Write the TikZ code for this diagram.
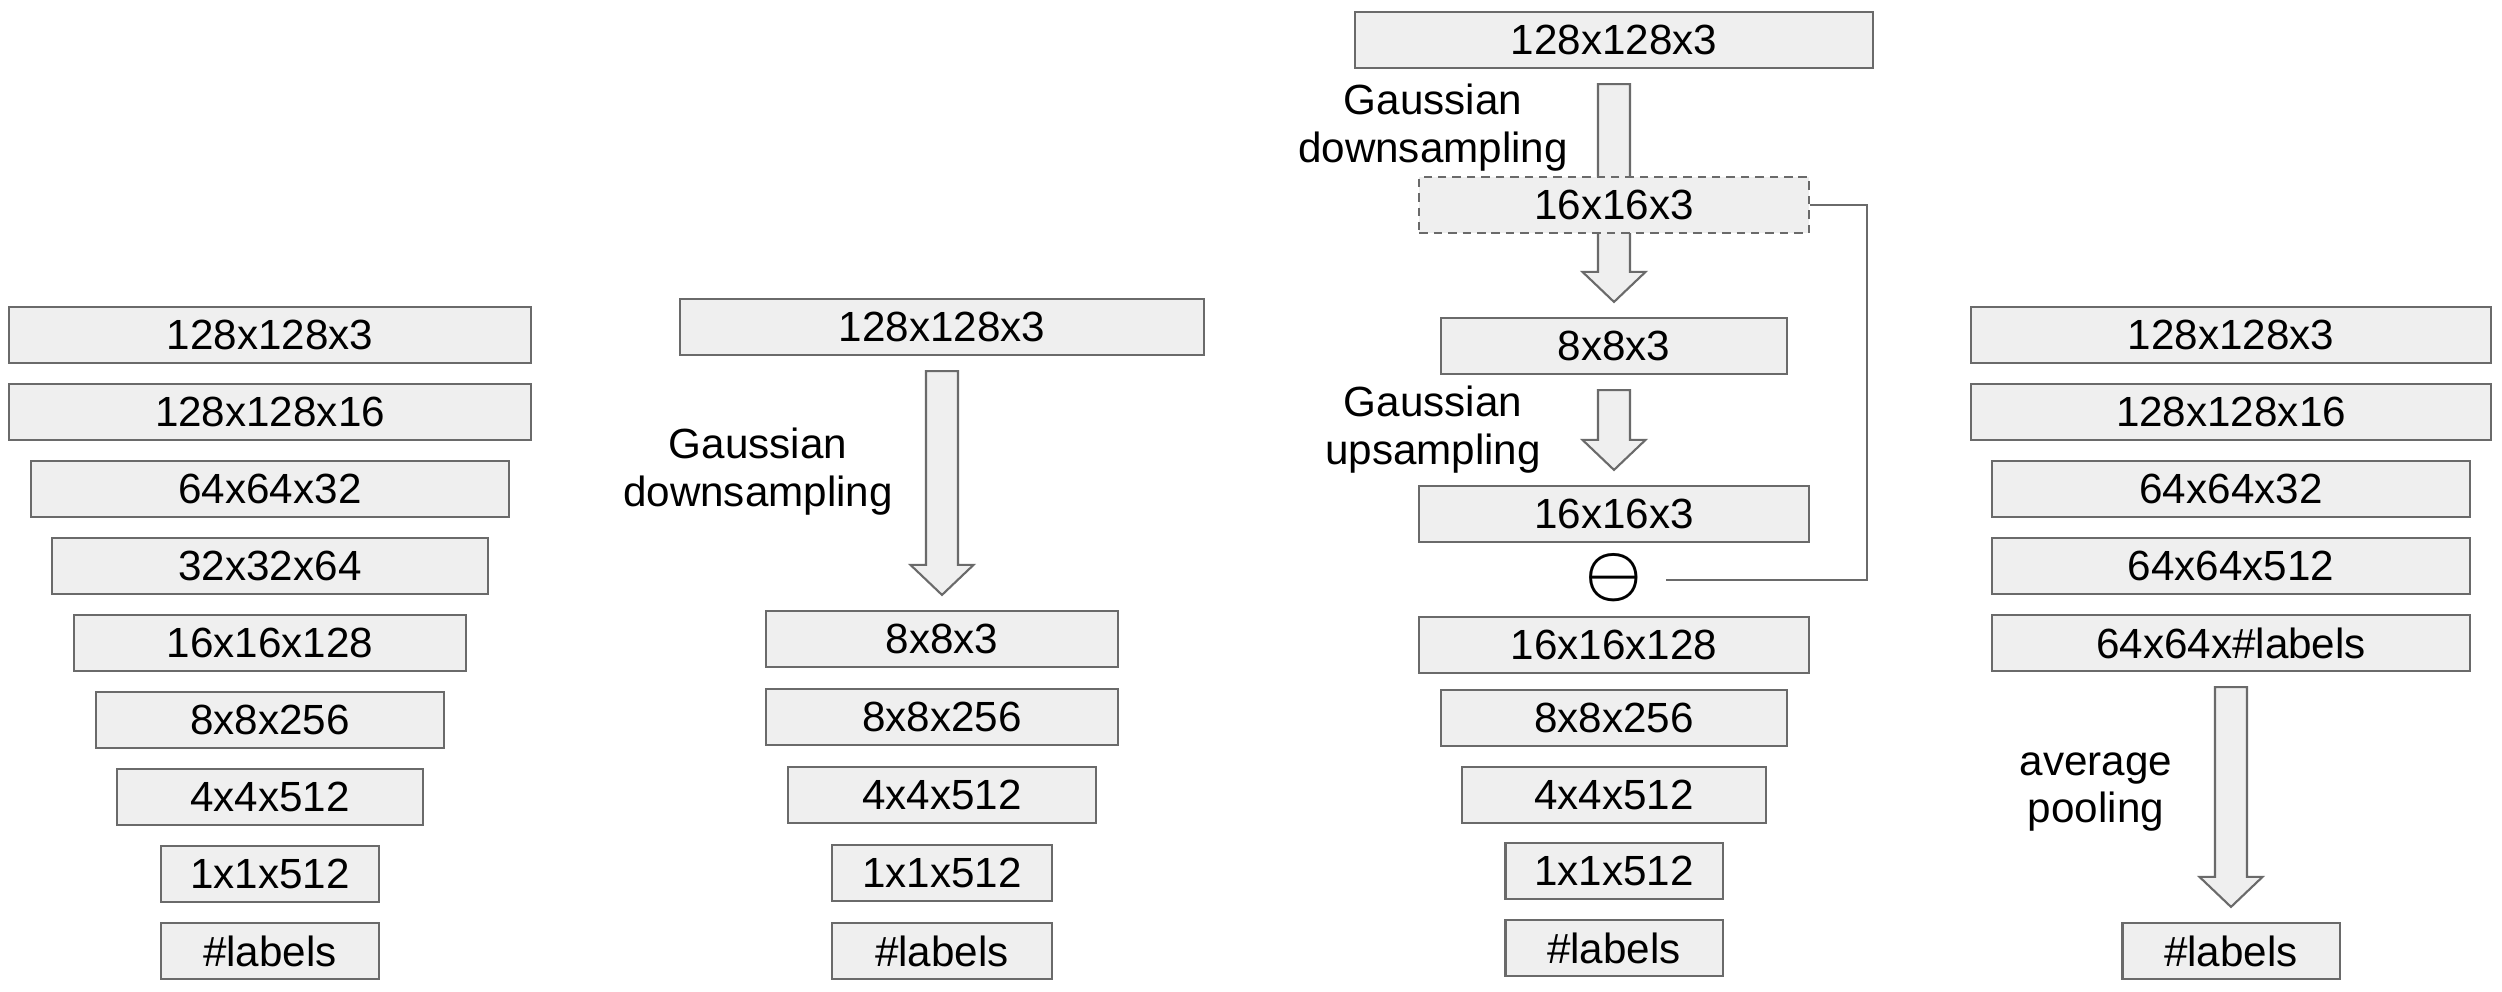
\documentclass[tikz,border=0pt]{standalone}
\usepackage{fontspec}
\setmainfont{Liberation Sans}
\usepackage{graphicx}
\usetikzlibrary{calc}
\definecolor{boxfill}{HTML}{EFEFEF}
\definecolor{boxline}{HTML}{6A6A6A}
\tikzstyle{layer}=[rectangle,draw=boxline,fill=boxfill,line width=0.6pt,minimum height=0.56cm,inner sep=0pt]
\tikzstyle{guess}=[layer,dash pattern=on 2.4pt off 1.7pt]
\tikzstyle{note}=[align=center]
\tikzstyle{feed}=[draw=boxline,line width=0.6pt]
% big hollow arrow from the box #1 down to the box #2
\newcommand{\blockarrow}[2]{%
\path let \p1=($(#1.south)+(0,15)$), \p2=($(#2.north)+(0,-15)$) in
  [draw=boxline,fill=boxfill,line width=0.6pt]
  (\x1-0.16cm,\y1) -- (\x1+0.16cm,\y1) -- (\x1+0.16cm,\y2+0.3cm) -- (\x1+0.315cm,\y2+0.3cm)
  -- (\x1,\y2) -- (\x1-0.315cm,\y2+0.3cm) -- (\x1-0.16cm,\y2+0.3cm) -- cycle;}

\begin{document}
\begin{tikzpicture}[x=0.01cm,y=-0.01cm,font=\fontsize{12}{13.6}\selectfont]
\useasboundingbox (0,0) rectangle (2502,992);
% plain network
\node (a1) at (270,335)[layer,minimum width=5.22cm] {128x128x3};
\node (a2) at (270,412)[layer,minimum width=5.22cm] {128x128x16};
\node (a3) at (270,489)[layer,minimum width=4.78cm] {64x64x32};
\node (a4) at (270,566)[layer,minimum width=4.35cm] {32x32x64};
\node (a5) at (270,643)[layer,minimum width=3.92cm] {16x16x128};
\node (a6) at (270,720)[layer,minimum width=3.48cm] {8x8x256};
\node (a7) at (270,797)[layer,minimum width=3.05cm] {4x4x512};
\node (a8) at (270,874)[layer,minimum width=2.18cm] {1x1x512};
\node (a9) at (270,951)[layer,minimum width=2.18cm] {\#labels};
% downsampled input
\node (b1) at (942,327)[layer,minimum width=5.24cm] {128x128x3};
\node (b2) at (942,639)[layer,minimum width=3.52cm] {8x8x3};
\node (b3) at (942,717)[layer,minimum width=3.52cm] {8x8x256};
\node (b4) at (942,795)[layer,minimum width=3.08cm] {4x4x512};
\node (b5) at (942,873)[layer,minimum width=2.20cm] {1x1x512};
\node (b6) at (942,951)[layer,minimum width=2.20cm] {\#labels};
\node (b7) at (758,472)[note] {Gaussian\\downsampling};
\blockarrow{b1}{b2}
% residual of down/up sampling
\node (c1) at (1614,40)[layer,minimum width=5.18cm] {128x128x3};
\node (c3) at (1614,346)[layer,minimum width=3.45cm] {8x8x3};
\blockarrow{c1}{c3}
\node (c2) at (1614,205)[guess,minimum width=3.89cm] {16x16x3};
\node (c4) at (1614,514)[layer,minimum width=3.89cm] {16x16x3};
\blockarrow{c3}{c4}
\node (minus) at (1614,578)[inner sep=0pt] {\scalebox{1.5}{\boldmath$\ominus$}};
\coordinate (minusend) at (1666,580);
\draw[feed] (c2.east) -- ++(57,0) |- (minusend);
\node (c5) at (1614,645)[layer,minimum width=3.89cm] {16x16x128};
\node (c6) at (1614,718)[layer,minimum width=3.45cm] {8x8x256};
\node (c7) at (1614,795)[layer,minimum width=3.03cm] {4x4x512};
\node (c8) at (1614,871)[layer,minimum width=2.17cm] {1x1x512};
\node (c9) at (1614,948)[layer,minimum width=2.17cm] {\#labels};
\node (c10) at (1433,128)[note] {Gaussian\\downsampling};
\node (c11) at (1433,430)[note] {Gaussian\\upsampling};
% fully convolutional
\node (d1) at (2231,335)[layer,minimum width=5.20cm] {128x128x3};
\node (d2) at (2231,412)[layer,minimum width=5.20cm] {128x128x16};
\node (d3) at (2231,489)[layer,minimum width=4.78cm] {64x64x32};
\node (d4) at (2231,566)[layer,minimum width=4.78cm] {64x64x512};
\node (d5) at (2231,643)[layer,minimum width=4.78cm] {64x64x\#labels};
\node (d6) at (2231,951)[layer,minimum width=2.17cm] {\#labels};
\node (d7) at (2096,792)[note] {average\\pooling};
\blockarrow{d5}{d6}
\end{tikzpicture}
\end{document}
